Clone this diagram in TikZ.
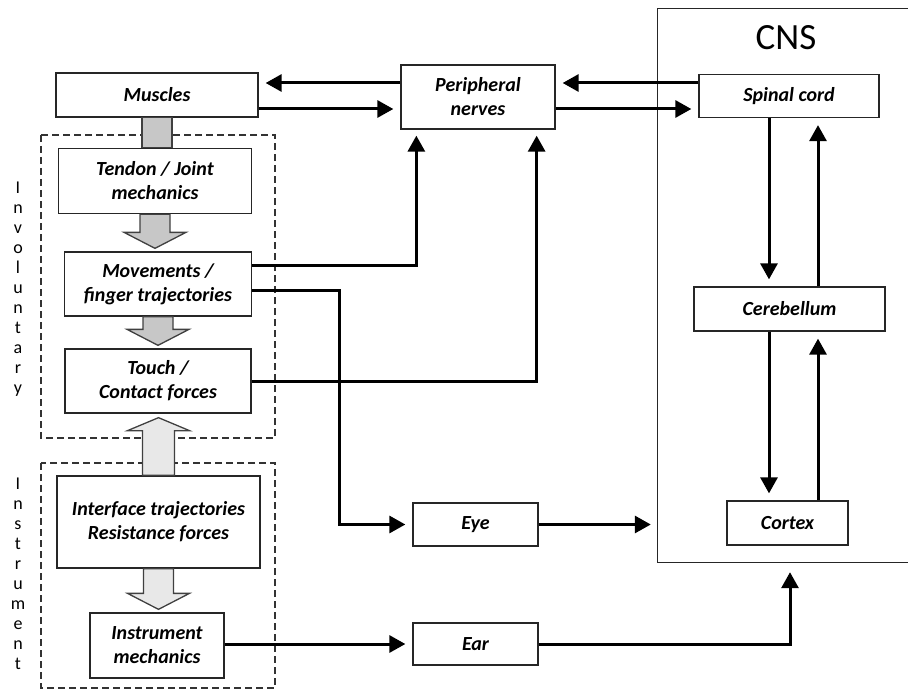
\documentclass[tikz,border=0pt]{standalone}
\usepackage{fontspec}
\setmainfont{Carlito}
\usetikzlibrary{arrows.meta,calc}

\newcommand{\fatdown}[3]{%
  \draw[#1] let \p1=(#2.south), \p2=(#3.north) in
    (\x1-15pt,\y1) -- (\x1-15pt,\y2+19pt) -- (\x1-31pt,\y2+19pt) -- (\x1,\y2+3pt)
    -- (\x1+31pt,\y2+19pt) -- (\x1+15pt,\y2+19pt) -- (\x1+15pt,\y1) -- cycle;}
\newcommand{\fatup}[3]{%
  \draw[#1] let \p1=(#2.north), \p2=(#3.south) in
    (\x1-16pt,\y1) -- (\x1-16pt,\y2-17pt) -- (\x1-31pt,\y2-17pt) -- (\x1,\y2-4pt)
    -- (\x1+31pt,\y2-17pt) -- (\x1+16pt,\y2-17pt) -- (\x1+16pt,\y1) -- cycle;}

\begin{document}
\begin{tikzpicture}[x=1pt,y=-1pt,
  box/.style={draw=black!85,line width=1.3pt,fill=white,align=center,inner sep=2pt,
    font=\fontsize{20}{24}\selectfont\bfseries\itshape},
  conn/.style={line width=3pt,-{Triangle[length=16pt,width=17pt]},shorten >=7pt},
  group/.style={draw=black!80,line width=1.3pt,dash pattern=on 7pt off 4pt},
  fatdark/.style={draw=black!75,line width=1.3pt,fill=black!22},
  fatlight/.style={draw=black!75,line width=1.3pt,fill=black!9},
  letters/.style={align=center,font=\fontsize{18}{20}\selectfont}]

\useasboundingbox (0,0) rectangle (908,690);

\draw[group] (41,135) rectangle (275,438);
\draw[group] (41,463) rectangle (275,688);

\node[letters] (invol) at (18,289) {I\\n\\v\\o\\l\\u\\n\\t\\a\\r\\y};
\node[letters] (instr) at (18,574) {I\\n\\s\\t\\r\\u\\m\\e\\n\\t};

\node[box,minimum width=202pt,minimum height=44pt] (muscles) at (157,95) {Muscles};
\node[box,minimum width=154pt,minimum height=64pt] (periph) at (478,97) {Peripheral\\nerves};
\node[box,minimum width=193pt,minimum height=65pt] (tendon) at (155,181) {Tendon / Joint\\mechanics};
\node[box,minimum width=187pt,minimum height=64pt] (movements) at (158,284) {Movements /\\finger trajectories};
\node[box,minimum width=186pt,minimum height=64pt] (touch) at (158,381) {Touch /\\Contact forces};
\node[box,minimum width=203pt,minimum height=92pt] (interface) at (158.5,522) {Interface trajectories\\Resistance forces};
\node[box,minimum width=134pt,minimum height=65pt] (instrument) at (157,645.5) {Instrument\\mechanics};
\node[box,minimum width=125pt,minimum height=43pt] (eye) at (475.5,524.5) {Eye};
\node[box,minimum width=125pt,minimum height=42pt] (ear) at (475.5,644) {Ear};

\node[minimum width=250pt,minimum height=553pt] (cns) at (783,285.5) {};
\draw[line width=1.3pt,black!85] (cns.north east) -- (cns.north west) -- (cns.south west) -- (cns.south east);
\node[font=\fontsize{37}{37}\selectfont] (cnslabel) at (786,38) {CNS};
\node[box,minimum width=180pt,minimum height=43pt] (spinal) at (789,96) {Spinal cord};
\node[box,minimum width=191pt,minimum height=44pt] (cerebellum) at (789.5,309) {Cerebellum};
\node[box,minimum width=121pt,minimum height=44pt] (cortex) at (787.5,523) {Cortex};

\draw[fatdark] let \p1=(muscles.south), \p2=(tendon.north) in (\x1-15pt,\y1) rectangle (\x1+15pt,\y2);
\fatdown{fatdark}{tendon}{movements}
\fatdown{fatdark}{movements}{touch}
\fatup{fatlight}{interface}{touch}
\fatdown{fatlight}{interface}{instrument}

\coordinate (hi) at (0,83);
\coordinate (lo) at (0,109);
\draw[conn] (periph.west |- hi) -- (muscles.east |- hi);
\draw[conn] (muscles.east |- lo) -- (periph.west |- lo);
\draw[conn] (spinal.west |- hi) -- (periph.east |- hi);
\draw[conn] (periph.east |- lo) -- (spinal.west |- lo);

\draw[conn,shorten >=6pt] ([yshift=19pt]movements.east) -| ([xshift=16pt]periph.south west);
\draw[conn,shorten >=6pt] (touch.east) -| ([xshift=-19pt]periph.south east);
\draw[conn] ([yshift=-6pt]movements.east) -- ++(87,0) |- (eye.west);
\draw[conn] (eye.east) -- (eye.east -| cns.west);
\draw[conn] (instrument.east |- ear.west) -- (ear.west);
\coordinate (cnsin) at (790,0);
\draw[conn,shorten >=10pt] (ear.east) -| (cns.south -| cnsin);

\coordinate (cl) at (769,0);
\coordinate (cr) at (818,0);
\draw[conn] (spinal.south -| cl) -- (cerebellum.north -| cl);
\draw[conn] (cerebellum.north -| cr) -- (spinal.south -| cr);
\draw[conn] (cerebellum.south -| cl) -- (cortex.north -| cl);
\draw[conn] (cortex.north -| cr) -- (cerebellum.south -| cr);

\end{tikzpicture}
\end{document}
